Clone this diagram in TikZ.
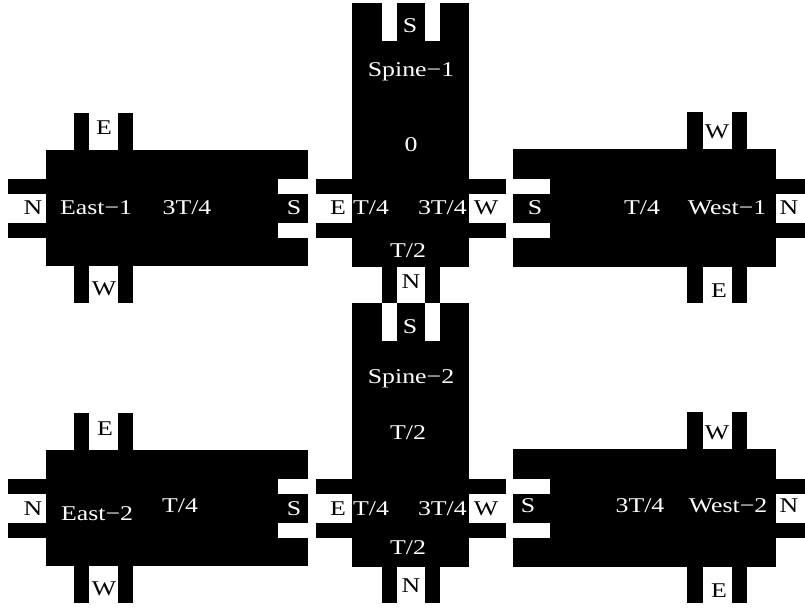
\documentclass[tikz,border=0pt]{standalone}
\usepackage{fontspec}
\setmainfont{Liberation Serif}[FakeStretch=1.23]
\tikzset{
  body/.style={fill=black},
  cut/.style={fill=white},
  lbl/.style={font=\fontsize{21bp}{25bp}\selectfont, inner sep=0pt, anchor=base},
  wlbl/.style={lbl, text=white},
  blbl/.style={lbl, text=black},
}
\begin{document}
\begin{tikzpicture}[x=1bp, y=-1bp]
  \useasboundingbox (0,0) rectangle (805,608);
  % the two rows of blocks are the same shape
  \foreach \dy in {0,300} {
    \begin{scope}[shift={(0,\dy)}]
      % east block
      \fill[body] (46,150) rectangle (308,266);
      \fill[body] (74,113) rectangle (89,303);
      \fill[body] (118,113) rectangle (133,303);
      \fill[body] (8,179) rectangle (46,194);
      \fill[body] (8,223) rectangle (46,238);
      \fill[cut] (278,179) rectangle (308,194);
      \fill[cut] (278,223) rectangle (308,238);
      % spine block
      \fill[body] (352,3) rectangle (469,267);
      \fill[body] (316,179) rectangle (506,194);
      \fill[body] (316,223) rectangle (506,238);
      \fill[body] (382,267) rectangle (397,303);
      \fill[body] (425,267) rectangle (440,303);
      \fill[cut] (382,3) rectangle (397,41);
      \fill[cut] (425,3) rectangle (440,41);
      % west block
      \fill[body] (513,149) rectangle (776,267);
      \fill[body] (687,112) rectangle (703,303);
      \fill[body] (732,112) rectangle (747,303);
      \fill[body] (776,179) rectangle (805,194);
      \fill[body] (776,223) rectangle (805,238);
      \fill[cut] (513,179) rectangle (550,194);
      \fill[cut] (513,223) rectangle (550,238);
    \end{scope}
  }
  % row 1
  \node[blbl] (e1n) at (33,215) {N};
  \node[wlbl] (e1name) at (96,215) {East−1};
  \node[wlbl] (e1ph) at (187,215) {3T/4};
  \node[wlbl] (e1s) at (294,215) {S};
  \node[blbl] (e1e) at (104,135) {E};
  \node[blbl] (e1w) at (104,295) {W};
  \node[wlbl] (s1s) at (410,33) {S};
  \node[wlbl] (s1name) at (411,77) {Spine−1};
  \node[wlbl] (s1ph) at (411,152) {0};
  \node[blbl] (s1e) at (338,215) {E};
  \node[wlbl, anchor=base west] (s1t4) at (353,215) {T/4};
  \node[wlbl, anchor=base east] (s1t34) at (467,215) {3T/4};
  \node[blbl] (s1w) at (486,215) {W};
  \node[wlbl] (s1t2) at (408,257) {T/2};
  \node[blbl] (s1n) at (411,288) {N};
  \node[wlbl] (w1s) at (535,215) {S};
  \node[wlbl] (w1ph) at (642,215) {T/4};
  \node[wlbl] (w1name) at (727,215) {West−1};
  \node[blbl] (w1n) at (789,215) {N};
  \node[blbl] (w1w) at (717,139) {W};
  \node[blbl] (w1e) at (719,297) {E};
  % row 2
  \node[blbl] (e2n) at (33,515) {N};
  \node[wlbl] (e2name) at (97,520) {East−2};
  \node[wlbl] (e2ph) at (180,512) {T/4};
  \node[wlbl] (e2s) at (294,515) {S};
  \node[blbl] (e2e) at (105,435) {E};
  \node[blbl] (e2w) at (104,595) {W};
  \node[wlbl] (s2s) at (410,333) {S};
  \node[wlbl] (s2name) at (411,383) {Spine−2};
  \node[wlbl] (s2ph) at (408,439) {T/2};
  \node[blbl] (s2e) at (338,515) {E};
  \node[wlbl, anchor=base west] (s2t4) at (353,515) {T/4};
  \node[wlbl, anchor=base east] (s2t34) at (467,515) {3T/4};
  \node[blbl] (s2w) at (486,515) {W};
  \node[wlbl] (s2t2) at (408,554) {T/2};
  \node[blbl] (s2n) at (411,592) {N};
  \node[wlbl] (w2s) at (528,512) {S};
  \node[wlbl] (w2ph) at (640,512) {3T/4};
  \node[wlbl] (w2name) at (728,512) {West−2};
  \node[blbl] (w2n) at (789,512) {N};
  \node[blbl] (w2w) at (717,439) {W};
  \node[blbl] (w2e) at (719,597) {E};
\end{tikzpicture}
\end{document}
